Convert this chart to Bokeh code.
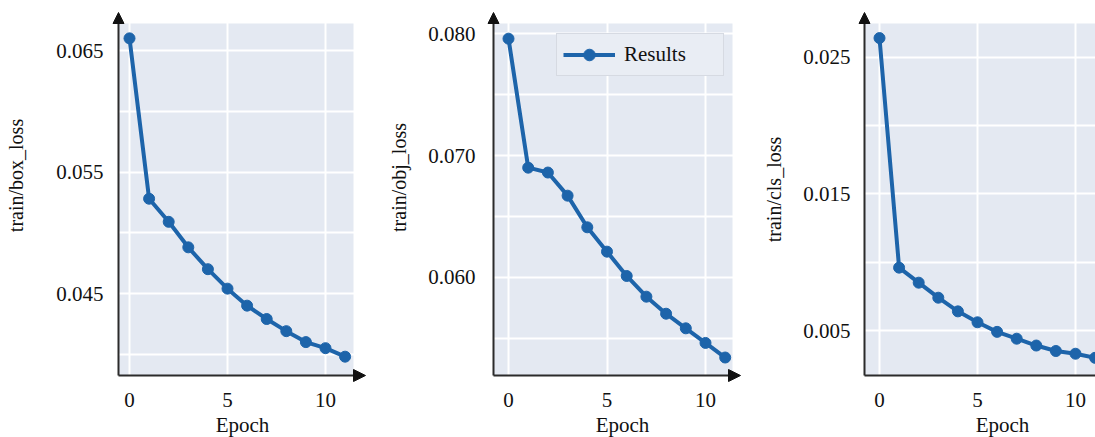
import math
from bokeh.plotting import figure
from bokeh.layouts import row
from bokeh.models import FixedTicker, Range1d
from bokeh.core.properties import value
from bokeh.embed import file_html
from bokeh.resources import INLINE

# ---------------- data ----------------
epochs = list(range(12))
box_loss = [0.0660, 0.0528, 0.0509, 0.0488, 0.0470, 0.0454, 0.0440, 0.0429, 0.0419, 0.0410, 0.0405, 0.0398]
obj_loss = [0.0796, 0.0690, 0.0686, 0.0667, 0.0641, 0.0621, 0.0601, 0.0584, 0.0570, 0.0558, 0.0546, 0.0534]
cls_loss = [0.0264, 0.0096, 0.0085, 0.0074, 0.0064, 0.0056, 0.0049, 0.0044, 0.0039, 0.0035, 0.0033, 0.0030]

x_ticks = [0, 5, 10]
box_ticks = [0.045, 0.055, 0.065]
obj_ticks = [0.060, 0.070, 0.080]
cls_ticks = [0.005, 0.015, 0.025]
box_grid = [0.040, 0.045, 0.050, 0.055, 0.060, 0.065]
obj_grid = [0.055, 0.060, 0.065, 0.070, 0.075, 0.080]
cls_grid = [0.005, 0.010, 0.015, 0.020, 0.025]

y_labels = ["train/box_loss", "train/obj_loss", "train/cls_loss"]
x_label = "Epoch"
legend_text = "Results"

# ---------------- style ----------------
FONT = "Liberation Serif"
BG = "#E4E9F2"
BLUE = "#1D64AA"
AXIS = "#2b2b2b"
HEAD = "#111111"
TEXT = "#111111"
FIG_H = 437
ARROW_TOP = 12       # tip of the y arrow (px from top)
BG_TOP = 23          # top of shaded area
AXIS_Y = 375         # x-axis line
XLABEL_MID = 424     # vertical middle of the "Epoch" title


def lin(pa, va, pb, vb):
    k = (vb - va) / (pb - pa)
    return lambda p: va + (p - pa) * k


def make_panel(y, ylabel, yticks, ygrid, geo, legend=False):
    fx0, fx1 = geo["fig"]
    ax_x = geo["axis_x"]
    bg_r = geo["bg_right"]
    tip_x = geo["tip_x"]
    xm = lin(*geo["xa"])
    ym = lin(*geo["ya"])

    p = figure(width=fx1 - fx0, height=FIG_H,
               x_range=Range1d(xm(fx0), xm(fx1)),
               y_range=Range1d(ym(FIG_H), ym(0)),
               output_backend="svg", toolbar_location=None,
               min_border_left=0, min_border_right=0,
               min_border_top=0, min_border_bottom=0)
    p.background_fill_color = "white"
    p.border_fill_color = "white"
    p.outline_line_color = None

    # shaded plotting area
    p.quad(left=[xm(ax_x)], right=[xm(bg_r)], bottom=[ym(AXIS_Y)], top=[ym(BG_TOP)],
           fill_color=BG, line_color=None, level="image")

    p.xgrid.ticker = FixedTicker(ticks=x_ticks)
    p.ygrid.ticker = FixedTicker(ticks=ygrid)
    for g in (p.xgrid, p.ygrid):
        g.grid_line_color = "white"
        g.grid_line_width = 2

    # axes pinned to the corner of the shaded area
    p.xaxis.fixed_location = ym(AXIS_Y)
    p.yaxis.fixed_location = xm(ax_x)
    p.xaxis.ticker = FixedTicker(ticks=x_ticks)
    p.yaxis.ticker = FixedTicker(ticks=yticks)
    p.yaxis.major_label_overrides = {t: f"{t:.3f}" for t in yticks}
    for ax in (p.xaxis, p.yaxis):
        ax.axis_line_color = None
        ax.major_tick_line_color = None
        ax.minor_tick_line_color = None
        ax.major_tick_out = 0
        ax.major_tick_in = 0
        ax.minor_tick_out = 0
        ax.minor_tick_in = 0
        ax.major_label_text_font = FONT
        ax.major_label_text_font_size = "21px"
        ax.major_label_text_color = TEXT
    p.xaxis.major_label_standoff = 17
    p.yaxis.major_label_standoff = geo["tick_standoff"]

    # axis titles
    p.text(x=[xm(geo["xlabel_x"])], y=[ym(XLABEL_MID)], text=[x_label],
           text_align="center", text_baseline="middle",
           text_font=value(FONT), text_font_size="21px", text_color=TEXT)
    p.text(x=[xm(geo["ylabel_xy"][0])], y=[ym(geo["ylabel_xy"][1])], text=[ylabel],
           angle=math.pi / 2, text_align="center", text_baseline="middle",
           text_font=value(FONT), text_font_size="20px", text_color=TEXT)

    # axis lines with arrow heads
    p.line([xm(ax_x), xm(ax_x)], [ym(AXIS_Y), ym(ARROW_TOP + 4)], line_color=AXIS, line_width=2)
    p.line([xm(ax_x), xm(tip_x - 4)], [ym(AXIS_Y), ym(AXIS_Y)], line_color=AXIS, line_width=2)
    p.patch([xm(ax_x - 5.5), xm(ax_x + 5.5), xm(ax_x)],
            [ym(BG_TOP), ym(BG_TOP), ym(ARROW_TOP)],
            fill_color=HEAD, line_color=HEAD, line_width=1)
    p.patch([xm(tip_x - 12), xm(tip_x - 12), xm(tip_x)],
            [ym(AXIS_Y - 6), ym(AXIS_Y + 6), ym(AXIS_Y)],
            fill_color=HEAD, line_color=HEAD, line_width=1)

    kw = dict(legend_label=legend_text) if legend else {}
    p.line(epochs, y, line_color=BLUE, line_width=4, **kw)
    p.scatter(epochs, y, size=11, fill_color=BLUE, line_color=BLUE, **kw)

    if legend:
        lg = p.legend[0]
        lg.location = geo["legend_loc"]
        lg.margin = 0
        lg.padding = 6
        lg.glyph_width = 52
        lg.glyph_height = 29
        lg.label_standoff = 9
        lg.label_width = 93
        lg.label_text_font = FONT
        lg.label_text_font_size = "21px"
        lg.label_text_color = TEXT
        lg.background_fill_color = "#E9EDF4"
        lg.background_fill_alpha = 1
        lg.border_line_color = "#C4C8CF"
        lg.border_line_width = 1.5
    return p


geo1 = dict(fig=(0, 380), axis_x=118, bg_right=353, tip_x=365,
            xa=(129, 0, 325, 10), ya=(50, 0.065, 293, 0.045),
            tick_standoff=15, xlabel_x=242, ylabel_xy=(15, 175))
geo2 = dict(fig=(380, 760), axis_x=493, bg_right=732, tip_x=740,
            xa=(508, 0, 705, 10), ya=(155, 0.070, 276.7, 0.060),
            tick_standoff=18, xlabel_x=622, ylabel_xy=(398, 177),
            legend_loc=(176, 361))
geo3 = dict(fig=(760, 1095), axis_x=864, bg_right=1095, tip_x=1110,
            xa=(879, 0, 1075, 10), ya=(56.7, 0.025, 330, 0.005),
            tick_standoff=14, xlabel_x=1002, ylabel_xy=(773, 189))

p1 = make_panel(box_loss, y_labels[0], box_ticks, box_grid, geo1)
p2 = make_panel(obj_loss, y_labels[1], obj_ticks, obj_grid, geo2, legend=True)
p3 = make_panel(cls_loss, y_labels[2], cls_ticks, cls_grid, geo3)

layout = row(p1, p2, p3)
open("out.html", "w").write(file_html(layout, INLINE))
